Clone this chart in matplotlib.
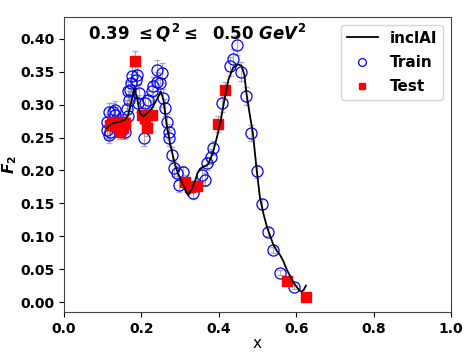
import matplotlib
matplotlib.use("Agg")
import matplotlib.pyplot as plt
import numpy as np

plt.rcParams['mathtext.fontset'] = 'custom'
plt.rcParams['mathtext.it'] = 'DejaVu Sans:italic:bold'
plt.rcParams['mathtext.rm'] = 'DejaVu Sans:bold'

# %% data
curve_x = [0.110, 0.120, 0.127, 0.145, 0.158, 0.166, 0.175, 0.181, 0.188, 0.196,
           0.205, 0.215, 0.227, 0.240, 0.250, 0.257, 0.265, 0.274, 0.283, 0.291,
           0.300, 0.308, 0.315, 0.321, 0.330, 0.338, 0.345, 0.351, 0.360, 0.367,
           0.373, 0.380, 0.386, 0.395, 0.403, 0.416, 0.425, 0.437, 0.450, 0.459,
           0.466, 0.472, 0.480, 0.488, 0.498, 0.506, 0.515, 0.524, 0.533, 0.541,
           0.550, 0.558, 0.567, 0.575, 0.584, 0.592, 0.600, 0.608, 0.614, 0.620, 0.625]
curve_y = [0.264, 0.270, 0.272, 0.274, 0.277, 0.284, 0.307, 0.325, 0.312, 0.287,
           0.282, 0.287, 0.294, 0.308, 0.320, 0.307, 0.270, 0.241, 0.218, 0.201,
           0.188, 0.178, 0.168, 0.162, 0.172, 0.183, 0.196, 0.202, 0.206, 0.207,
           0.210, 0.220, 0.230, 0.250, 0.270, 0.312, 0.338, 0.356, 0.361, 0.359,
           0.345, 0.315, 0.285, 0.257, 0.200, 0.160, 0.135, 0.115, 0.100, 0.087,
           0.078, 0.072, 0.062, 0.050, 0.040, 0.031, 0.024, 0.018, 0.016, 0.019, 0.025]

train_x = [0.110, 0.110, 0.115, 0.115, 0.119, 0.127, 0.132, 0.132, 0.140, 0.149,
           0.158, 0.162, 0.166, 0.166, 0.169, 0.171, 0.173, 0.175, 0.185, 0.188,
           0.192, 0.195, 0.207, 0.209, 0.218, 0.227, 0.231, 0.239, 0.241, 0.248,
           0.252, 0.257, 0.261, 0.265, 0.270, 0.272, 0.278, 0.283, 0.291, 0.298,
           0.308, 0.334, 0.356, 0.364, 0.369, 0.381, 0.386, 0.407, 0.429, 0.437,
           0.447, 0.457, 0.470, 0.483, 0.498, 0.511, 0.528, 0.541, 0.558, 0.594]
train_y = [0.262, 0.274, 0.254, 0.289, 0.259, 0.289, 0.284, 0.292, 0.274, 0.262,
           0.259, 0.294, 0.282, 0.320, 0.307, 0.322, 0.333, 0.343, 0.338, 0.345,
           0.302, 0.317, 0.249, 0.302, 0.307, 0.320, 0.328, 0.335, 0.353, 0.333,
           0.348, 0.310, 0.295, 0.274, 0.259, 0.249, 0.224, 0.203, 0.196, 0.178,
           0.197, 0.165, 0.193, 0.186, 0.211, 0.221, 0.234, 0.302, 0.358, 0.369,
           0.391, 0.350, 0.313, 0.257, 0.199, 0.149, 0.106, 0.079, 0.045, 0.023]
train_err = [0.012, 0.012, 0.012, 0.013, 0.012, 0.013, 0.013, 0.013, 0.012, 0.012,
             0.012, 0.013, 0.013, 0.014, 0.013, 0.014, 0.014, 0.015, 0.015, 0.015,
             0.013, 0.014, 0.012, 0.013, 0.013, 0.014, 0.014, 0.015, 0.015, 0.015,
             0.015, 0.014, 0.013, 0.012, 0.012, 0.012, 0.011, 0.011, 0.010, 0.010,
             0.010, 0.009, 0.010, 0.010, 0.010, 0.011, 0.011, 0.013, 0.014, 0.015,
             0.015, 0.014, 0.013, 0.012, 0.010, 0.008, 0.006, 0.005, 0.004, 0.003]

test_x = [0.183, 0.119, 0.123, 0.132, 0.145, 0.145, 0.153, 0.158, 0.201, 0.209,
          0.214, 0.227, 0.313, 0.326, 0.343, 0.397, 0.416, 0.575, 0.625]
test_y = [0.366, 0.269, 0.274, 0.267, 0.274, 0.259, 0.264, 0.272, 0.284, 0.279,
          0.264, 0.284, 0.183, 0.175, 0.176, 0.271, 0.322, 0.032, 0.008]
test_err = [0.016, 0.012, 0.012, 0.012, 0.012, 0.012, 0.012, 0.012, 0.013, 0.013,
            0.012, 0.013, 0.010, 0.009, 0.009, 0.012, 0.013, 0.003, 0.002]

title_txt = r"0.39 $\leq Q^2 \leq$  0.50 $GeV^2$"

# %% plot
fig, ax = plt.subplots(figsize=(4.69, 3.52), dpi=100)
fig.subplots_adjust(left=0.1365, right=0.9616, bottom=0.1136, top=0.9517)

ax.plot(curve_x, curve_y, color='black', lw=1.3, label='inclAI', zorder=3)
ax.errorbar(train_x, train_y, yerr=train_err, fmt='none', ecolor='gray',
            elinewidth=0.8, capsize=2, alpha=0.6, zorder=1)
ax.errorbar(test_x, test_y, yerr=test_err, fmt='none', ecolor='gray',
            elinewidth=0.8, capsize=2, alpha=0.6, zorder=1)
ax.plot(train_x, train_y, 'o', mfc='none', mec='blue', ms=8, mew=0.9,
        label='Train', zorder=2)
ax.plot(test_x, test_y, 's', color='red', ms=7, label='Test', zorder=2)

ax.set_xlim(0.0, 1.0)
ax.set_ylim(-0.015, 0.433)
ax.set_xlabel('x', fontsize=11, labelpad=0)
ax.set_ylabel(r'$F_2$', fontsize=11, labelpad=1)
ax.text(0.062, 0.946, title_txt, transform=ax.transAxes, fontsize=12,
        fontweight='bold', va='center')

for lab in ax.get_xticklabels() + ax.get_yticklabels():
    lab.set_fontweight('bold')
ax.tick_params(labelsize=10)
for sp in ax.spines.values():
    sp.set_color('#444444')

ax.legend(loc='upper right', prop={'weight': 'bold', 'size': 11}, markerscale=0.7,
          labelspacing=0.6)

fig.savefig('out.png', dpi=100)
